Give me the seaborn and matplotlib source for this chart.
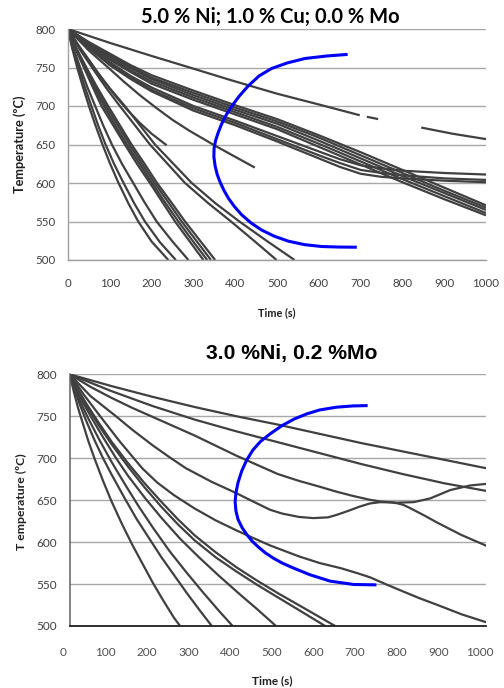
import numpy as np
import pandas as pd
import matplotlib
matplotlib.use("Agg")
import matplotlib.pyplot as plt
import matplotlib.transforms as mtransforms
import seaborn as sns

# ---------------------------------------------------------------------------
# Panel 1: 5.0 % Ni; 1.0 % Cu; 0.0 % Mo  -- cooling curves (time s, temperature °C)
# ---------------------------------------------------------------------------
NI5_TITLE = "5.0 % Ni; 1.0 % Cu; 0.0 % Mo"

# slowest curve, drawn in three pieces
NI5_SLOW_A_T = [0, 100, 200, 297, 387, 500, 600, 698]
NI5_SLOW_A_Y = [800, 782, 765, 749, 734, 716, 702, 688]
NI5_SLOW_B_T = [715, 742]
NI5_SLOW_B_Y = [686, 683]
NI5_SLOW_C_T = [845, 920, 1000]
NI5_SLOW_C_Y = [672, 664, 657]

# short curves that stop part way
NI5_SHORT1_T = [0, 25, 50, 80, 112, 140, 170, 200, 236]
NI5_SHORT1_Y = [800, 779, 760, 736, 714, 696, 679, 664, 649]
NI5_SHORT2_T = [0, 50, 100, 135, 172, 210, 250, 290, 328, 350, 390, 447]
NI5_SHORT2_Y = [800, 772, 748, 731, 714, 698, 682, 668, 656, 649, 637, 620]

# main bundle
NI5_GRID_T = [0, 50, 100, 150, 200, 300, 400, 500, 600, 700, 800, 900, 1000]
NI5_L1 = [800, 783, 768, 753, 740, 720, 701, 683, 662, 640, 617, 594, 571]
NI5_L2 = [800, 782, 766, 751, 737, 717, 698, 680, 659, 636, 613, 590, 568]
NI5_L3 = [800, 781, 764, 749, 735, 714, 695, 677, 655, 632, 609, 587, 565]
NI5_L4 = [800, 780, 762, 746, 732, 711, 692, 673, 651, 628, 605, 583, 561]
NI5_L5 = [800, 779, 760, 744, 729, 708, 689, 670, 647, 624, 601, 579, 558]

NI5_FLAT_T = [0, 50, 100, 150, 200, 300, 400, 500, 600, 650, 700, 750, 800, 900, 1000]
NI5_U1 = [800, 777, 757, 739, 724, 700, 681, 661, 641, 631, 623, 619, 616, 613, 611]
NI5_U2 = [800, 776, 755, 737, 721, 697, 678, 657, 636, 626, 617, 613, 610, 606, 604]
NI5_U3 = [800, 775, 753, 735, 719, 694, 675, 654, 632, 621, 612, 608, 606, 603, 601]

# fast curves reaching 500 °C
NI5_F1_T = [0, 10, 22, 35, 50, 65, 81, 100, 120, 145, 168, 200, 240]
NI5_F1_Y = [800, 775, 750, 726, 700, 676, 652, 626, 601, 573, 550, 524, 500]
NI5_F2_T = [0, 11, 25, 40, 56, 72, 89, 110, 132, 158, 184, 220, 258]
NI5_F2_Y = [800, 775, 750, 725, 700, 675, 651, 625, 601, 574, 550, 523, 500]
NI5_F3_T = [0, 13, 29, 46, 65, 84, 105, 130, 156, 183, 212, 250, 288]
NI5_F3_Y = [800, 775, 750, 725, 700, 675, 650, 624, 600, 575, 550, 524, 500]
NI5_F4_T = [0, 18, 38, 58, 80, 108, 136, 166, 196, 226, 256, 290, 324]
NI5_F4_Y = [800, 774, 750, 726, 700, 675, 650, 624, 600, 575, 550, 525, 500]
NI5_F5_T = [0, 19, 40, 62, 86, 113, 141, 171, 201, 232, 264, 298, 333]
NI5_F5_Y = [800, 774, 750, 725, 700, 675, 650, 625, 600, 575, 550, 525, 500]
NI5_F6_T = [0, 20, 42, 66, 91, 119, 147, 177, 207, 240, 272, 307, 342]
NI5_F6_Y = [800, 774, 750, 725, 700, 675, 650, 625, 600, 575, 550, 525, 500]
NI5_F7_T = [0, 21, 44, 69, 96, 124, 152, 183, 213, 247, 280, 316, 352]
NI5_F7_Y = [800, 774, 750, 725, 700, 675, 650, 625, 600, 575, 550, 525, 500]
NI5_M1_T = [0, 30, 60, 92, 124, 160, 196, 238, 280, 335, 390, 445, 499]
NI5_M1_Y = [800, 772, 748, 723, 700, 675, 650, 625, 600, 574, 550, 525, 500]
NI5_M2_T = [0, 32, 65, 100, 136, 172, 208, 252, 296, 352, 410, 475, 542]
NI5_M2_Y = [800, 772, 748, 723, 700, 675, 650, 625, 600, 574, 550, 525, 500]

# transformation-start curve
NI5_NOSE_T = [669, 620, 567, 525, 487, 457, 431, 410, 392, 378, 367, 359, 353, 349.5,
              349, 352, 357, 364, 373, 384, 398, 415, 437, 463, 493, 527, 565, 607, 650, 691]
NI5_NOSE_Y = [767, 765, 761.7, 756, 748.7, 739, 726, 713, 700, 688, 676, 665, 655, 645,
              634, 622, 611, 601, 590.5, 580, 569.5, 559, 548.5, 539, 531, 524.5, 520,
              517.5, 516.8, 516.6]

# ---------------------------------------------------------------------------
# Panel 2: 3.0 %Ni, 0.2 %Mo
# ---------------------------------------------------------------------------
NI3_TITLE = "3.0 %Ni, 0.2 %Mo"

NI3_GRID_T = [0, 100, 200, 300, 400, 500, 600, 700, 800, 900, 1000]
NI3_A = [800, 786, 773, 761, 750, 740, 729, 718, 708, 698, 688]
NI3_B = [800, 780, 762, 746, 732, 719, 706, 693, 681, 670, 661]

NI3_C_T = [0, 50, 100, 150, 200, 250, 300, 350, 400, 450, 500, 550, 600, 641, 680,
           720, 745, 785, 825, 865, 913, 961, 1000]
NI3_C_Y = [800, 785, 772, 760, 749, 738, 727, 715, 703, 692, 681, 673, 666, 660, 655,
           650.5, 648.4, 647, 647.6, 652, 662, 667.5, 669.4]

NI3_D_T = [0, 50, 111, 150, 200, 240, 279, 340, 397, 450, 481, 510, 550, 585, 620,
           641, 670, 697, 720, 745, 770, 785, 800, 817, 850, 881, 940, 1000]
NI3_D_Y = [800, 774, 750, 734, 715, 701, 688, 672, 659, 646, 638.5, 634, 630, 628.6,
           629.5, 632.5, 637.5, 642.5, 646, 647.6, 647.3, 646.4, 644.5, 640.5, 632,
           623.5, 608.5, 595.6]

NI3_E_T = [0, 35, 70, 120, 174, 210, 250, 300, 350, 400, 440, 481, 550, 600, 650, 690,
           721, 760, 801, 840, 881, 940, 1000]
NI3_E_Y = [800, 775, 752, 720, 688, 671, 656, 640, 626, 614, 605, 596, 583, 575, 569,
           563, 558, 549.5, 541, 533, 525.4, 514, 504.4]

NI3_G_T = [0, 15, 40, 70, 100, 140, 180, 220, 260, 300, 350, 400, 450, 500, 560, 613]
NI3_G_Y = [800, 785, 763, 739, 717, 690, 665, 642, 621, 602, 582, 565, 549, 534, 516, 500]
NI3_G2_T = [0, 15, 40, 70, 100, 140, 180, 220, 260, 300, 350, 400, 450, 500, 560, 637]
NI3_G2_Y = [800, 786, 765, 742, 720, 694, 670, 648, 627, 608, 588, 570, 554, 539, 522, 500]
NI3_H_T = [0, 10, 30, 55, 80, 110, 140, 180, 220, 265, 310, 360, 410, 450, 495]
NI3_H_Y = [800, 788, 768, 746, 725, 701, 679, 653, 629, 604, 582, 559, 537, 520, 500]
NI3_I_T = [0, 10, 25, 45, 70, 100, 130, 165, 200, 240, 280, 320, 360, 391]
NI3_I_Y = [800, 786, 768, 747, 723, 696, 671, 643, 617, 589, 564, 540, 517, 500]
NI3_J_T = [0, 10, 25, 40, 60, 80, 100, 130, 160, 190, 220, 250, 280, 310, 341]
NI3_J_Y = [800, 784, 763, 744, 721, 700, 681, 654, 628, 605, 582, 561, 540, 520, 500]
NI3_K_T = [0, 10, 20, 30, 45, 60, 80, 100, 125, 150, 175, 200, 225, 250, 265]
NI3_K_Y = [800, 779, 760, 744, 720, 699, 673, 649, 622, 597, 574, 551, 530, 510, 500]

NI3_NOSE_T = [715, 680, 640, 600, 570, 540, 510, 481, 458, 440, 425, 413, 404, 399, 397,
              399, 404, 414, 425, 438, 453, 470, 490, 510, 535, 577, 625, 681, 736]
NI3_NOSE_Y = [762.7, 762.3, 760.8, 757.5, 753, 747, 739, 729, 720, 710, 698, 685, 671,
              659, 648, 637, 627, 617, 609, 601, 594, 587, 580.5, 575, 569.5, 561, 553.5,
              549.5, 549]

TIME_TICKS = [0, 100, 200, 300, 400, 500, 600, 700, 800, 900, 1000]
TEMP_TICKS = [500, 550, 600, 650, 700, 750, 800]

CURVE_COLOR = "#404040"
NOSE_COLOR = "#0000F5"


def long_form(curves):
    rows = []
    for name, (ts, ys) in curves.items():
        for t, y in zip(ts, ys):
            rows.append((name, t, y))
    return pd.DataFrame(rows, columns=["curve", "time", "temp"])


ni5_curves = {
    "slow_a": (NI5_SLOW_A_T, NI5_SLOW_A_Y),
    "slow_b": (NI5_SLOW_B_T, NI5_SLOW_B_Y),
    "slow_c": (NI5_SLOW_C_T, NI5_SLOW_C_Y),
    "short1": (NI5_SHORT1_T, NI5_SHORT1_Y),
    "short2": (NI5_SHORT2_T, NI5_SHORT2_Y),
    "L1": (NI5_GRID_T, NI5_L1), "L2": (NI5_GRID_T, NI5_L2), "L3": (NI5_GRID_T, NI5_L3),
    "L4": (NI5_GRID_T, NI5_L4), "L5": (NI5_GRID_T, NI5_L5),
    "U1": (NI5_FLAT_T, NI5_U1), "U2": (NI5_FLAT_T, NI5_U2), "U3": (NI5_FLAT_T, NI5_U3),
    "F1": (NI5_F1_T, NI5_F1_Y), "F2": (NI5_F2_T, NI5_F2_Y), "F3": (NI5_F3_T, NI5_F3_Y),
    "F4": (NI5_F4_T, NI5_F4_Y), "F5": (NI5_F5_T, NI5_F5_Y), "F6": (NI5_F6_T, NI5_F6_Y),
    "F7": (NI5_F7_T, NI5_F7_Y), "M1": (NI5_M1_T, NI5_M1_Y), "M2": (NI5_M2_T, NI5_M2_Y),
}

ni3_curves = {
    "A": (NI3_GRID_T, NI3_A), "B": (NI3_GRID_T, NI3_B),
    "C": (NI3_C_T, NI3_C_Y), "D": (NI3_D_T, NI3_D_Y), "E": (NI3_E_T, NI3_E_Y),
    "G": (NI3_G_T, NI3_G_Y), "G2": (NI3_G2_T, NI3_G2_Y), "H": (NI3_H_T, NI3_H_Y),
    "I": (NI3_I_T, NI3_I_Y), "J": (NI3_J_T, NI3_J_Y), "K": (NI3_K_T, NI3_K_Y),
}

sns.set_theme(style="white")
plt.rcParams["font.family"] = ["Lato", "DejaVu Sans"]

W, H = 504, 688
fig = plt.figure(figsize=(W / 100, H / 100), dpi=100)


def px_box(x0, y0, x1, y1):
    return [x0 / W, 1 - y1 / H, (x1 - x0) / W, (y1 - y0) / H]


ax1 = fig.add_axes(px_box(68, 29, 486, 260))
ax2 = fig.add_axes(px_box(69.7, 374.3, 486.4, 626))


def draw_panel(ax, curves, nose_t, nose_y):
    df = long_form(curves)
    sns.lineplot(data=df, x="time", y="temp", units="curve", estimator=None,
                 sort=False, color=CURVE_COLOR, lw=1.6, ax=ax, legend=False)
    nose = pd.DataFrame({"time": nose_t, "temp": nose_y})
    sns.lineplot(data=nose, x="time", y="temp", sort=False, estimator=None,
                 color=NOSE_COLOR, lw=2.2, ax=ax, legend=False)
    for line in ax.get_lines():
        line.set_solid_joinstyle("round")
        line.set_solid_capstyle("butt")
    ax.set_xlim(0, 1000)
    ax.set_ylim(500, 800)
    ax.set_xticks(TIME_TICKS)
    ax.set_yticks(TEMP_TICKS)
    ax.set_xlabel("")
    ax.set_ylabel("")
    ax.yaxis.grid(True, color="#A8A8A8", lw=1.0)
    ax.set_axisbelow(True)
    for side in ("top", "right"):
        ax.spines[side].set_visible(False)
    ax.tick_params(length=0)


draw_panel(ax1, ni5_curves, NI5_NOSE_T, NI5_NOSE_Y)
draw_panel(ax2, ni3_curves, NI3_NOSE_T, NI3_NOSE_Y)

# panel 1 frame and tick text
for side in ("left", "bottom"):
    ax1.spines[side].set_color("#A0A0A0")
    ax1.spines[side].set_linewidth(1.0)
ax1.tick_params(axis="y", pad=9, labelsize=8.3, labelcolor="#404040")
ax1.tick_params(axis="x", pad=13, labelsize=8.3, labelcolor="#404040")

# panel 2 frame and tick text
ax2.spines["left"].set_color("#606060")
ax2.spines["left"].set_linewidth(1.1)
ax2.spines["bottom"].set_color("#202020")
ax2.spines["bottom"].set_linewidth(1.3)
ax2.tick_params(axis="y", pad=9, labelsize=8.5, labelcolor="#404040")
ax2.tick_params(axis="x", pad=15, labelsize=8.5, labelcolor="#505050")
shift = mtransforms.ScaledTranslation(-0.064, 0, fig.dpi_scale_trans)
for lab in ax2.get_xticklabels():
    lab.set_transform(lab.get_transform() + shift)

# titles and axis labels
fig.text(270 / W, 1 - 17 / H, NI5_TITLE, ha="center", va="center",
         fontsize=14.5, fontweight="bold", color="black")
fig.text(292 / W, 1 - 353 / H, NI3_TITLE, ha="center", va="center",
         fontsize=15.2, fontweight="bold", color="black",
         family=["Liberation Sans", "DejaVu Sans"])
fig.text(277 / W, 1 - 313 / H, "Time (s)", ha="center", va="center",
         fontsize=7.8, fontweight="bold", color="#202020")
fig.text(272 / W, 1 - 681 / H, "Time (s)", ha="center", va="center",
         fontsize=8.5, fontweight="bold", color="#202020")
fig.text(20 / W, 1 - 144 / H, "Temperature (ºC)", ha="center", va="center",
         rotation=90, fontsize=9.2, fontweight="bold", color="#202020")
fig.text(21 / W, 1 - 502 / H, "T emperature (ºC)", ha="center", va="center",
         rotation=90, fontsize=8.8, fontweight="bold", color="#202020")

fig.savefig("out.png", dpi=100, facecolor="white")
